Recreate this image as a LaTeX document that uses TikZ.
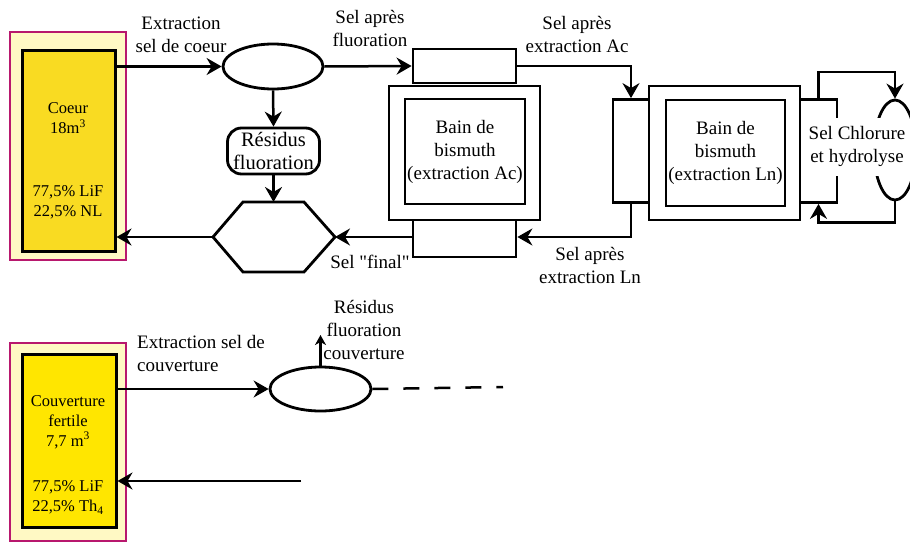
\documentclass[tikz,border=0pt]{standalone}
\usepackage{fontspec}
\setmainfont{Liberation Serif}
\newfontfamily\rawserif{Liberation Serif}
\usepackage{xcolor}
\usepackage{tikz}
\usetikzlibrary{positioning,arrows.meta,calc,shapes.geometric}

\definecolor{tankfill}{RGB}{249,219,34}
\definecolor{tankfillb}{RGB}{255,230,0}
\definecolor{shell}{RGB}{255,249,196}
\definecolor{shellline}{RGB}{184,24,110}

\begin{document}
\begin{tikzpicture}[x=1pt,y=-1pt,
  lbl/.style={font=\fontsize{19}{23}\selectfont,align=center,inner sep=1pt},
  sml/.style={font=\fontsize{16.5}{20}\selectfont,align=center,inner sep=1pt},
  shellbox/.style={draw=shellline,fill=shell,line width=2pt,inner sep=0pt},
  tank/.style={draw,line width=3pt,inner sep=0pt},
  unit/.style={draw,line width=2.8pt,inner sep=0pt,font=\fontsize{19}{23}\selectfont,align=center},
  oval/.style={ellipse,draw,line width=2.8pt,inner sep=0pt},
  wire/.style={line width=2.5pt},
  arr/.style={line width=2.5pt,-{Stealth[length=15pt,width=17pt,inset=5pt]}}]
\path[use as bounding box,fill=white] (0,0) rectangle (910,541);

% coeur
\node[shellbox,minimum width=116,minimum height=228] (coeurshell) at (68,146) {};
\node[tank,fill=tankfill,minimum width=93,minimum height=201] (coeur) at (68.5,150.5) {};
\node[sml] (coeurvol) at (68,118) {Coeur\\18m\textsuperscript{3}};
\node[sml] (coeurmix) at (68,202) {77,5\% LiF\\22,5\% NL};

% fluoration
\node[oval,minimum width=100,minimum height=45] (fluo) at (273,66.5) {};
\node[unit,font=\fontsize{20.5}{23}\selectfont,rounded corners=14pt,minimum width=92,minimum height=46] (residu) at (273.5,151) {Résidus\\fluoration};
\coordinate (hexW) at (213,237);
\coordinate (hexE) at (335,237);
\coordinate (hexN) at (273.5,202);
\draw[line width=2.8pt] (hexW) -- (243,202) -- (304,202) -- (hexE) -- (304,272) -- (243,272) -- cycle;

% bain Ac
\node[unit,minimum width=151,minimum height=134] (acframe) at (464.5,153) {};
\node[unit,minimum width=120,minimum height=105] (acbath) at (465,151.5) {Bain de\\bismuth\\(extraction Ac)};
\node[unit,minimum width=103,minimum height=34] (acin) at (464.5,66) {};
\node[unit,minimum width=103,minimum height=37] (acout) at (464.5,238.5) {};

% bain Ln
\node[unit,minimum width=151,minimum height=134] (lnframe) at (724.5,153) {};
\node[unit,minimum width=119,minimum height=106] (lnbath) at (725.5,153) {Bain de\\bismuth\\(extraction Ln)};
\node[unit,minimum width=36,minimum height=103] (lnin) at (631,151) {};
\node[unit,minimum width=37,minimum height=103] (lnout) at (818.5,151) {};
\node[oval,minimum width=42,minimum height=100] (hydro) at (895,150) {};

% liaisons coeur
\draw[arr] (fluo.west -| coeur.east) -- (fluo.west);
\draw[arr] (fluo.south) -- (residu.north);
\draw[arr] (residu.south) -- (hexN);
\draw[arr] (hexW) -- (hexW -| coeur.east);
\draw[arr] (fluo.east) -- (acin.west);
\draw[arr] (acin.east) -| (lnin.north);
\draw[arr] (lnin.south) |- (hexE -| acout.east);
\draw[arr] (hexE -| acout.west) -- (hexE);
\draw[arr] (lnout.north) -- ++(0,-26) -| (hydro.north);
\draw[arr] (hydro.south) -- ++(0,21) -| (lnout.south);
\node[lbl,fill=white,inner sep=2pt,minimum height=58] (chlor) at (857,146.5) {Sel Chlorure\\et hydrolyse};

\node[lbl] (lblcoeur) at (181,35) {Extraction\\sel de coeur};
\node[lbl] (lblfluo) at (370,28) {Sel après\\fluoration};
\node[lbl] (lblac) at (577,34) {Sel après\\extraction Ac};
\node[lbl] (lblln) at (590,265.5) {Sel après\\extraction Ln};
\node[lbl] (lblfinal) at (370,262) {\rawserif Sel "final"};

% couverture
\node[shellbox,minimum width=116,minimum height=198] (couvshell) at (68,442) {};
\node[tank,fill=tankfillb,minimum width=94,minimum height=173] (couv) at (69,440.5) {};
\node[sml] (couvvol) at (68,422) {Couverture\\fertile\\7,7 m\textsuperscript{3}};
\node[sml] (couvmix) at (68,497.5) {77,5\% LiF\\22,5\% Th\textsubscript{4}};
\node[oval,minimum width=101,minimum height=44] (fluob) at (320.5,389) {};
\coordinate (residub) at (320.5,335);
\coordinate (dashend) at (503,387);
\coordinate (retour) at (301,481);
\draw[arr] (fluob.west -| couv.east) -- (fluob.west);
\draw[wire,-{Stealth[length=10pt,width=11pt,inset=3pt]}] (fluob.north) -- (residub);
\draw[wire,dash pattern=on 16pt off 15pt] (fluob.east) -- (dashend);
\draw[arr] (retour) -- (retour -| couv.east);
\node[lbl,anchor=west,align=left] (lblcouv) at (136,353) {Extraction sel de\\couverture};
\node[lbl] (lblresb) at (364,330) {Résidus\\fluoration\\couverture};
\end{tikzpicture}
\end{document}
